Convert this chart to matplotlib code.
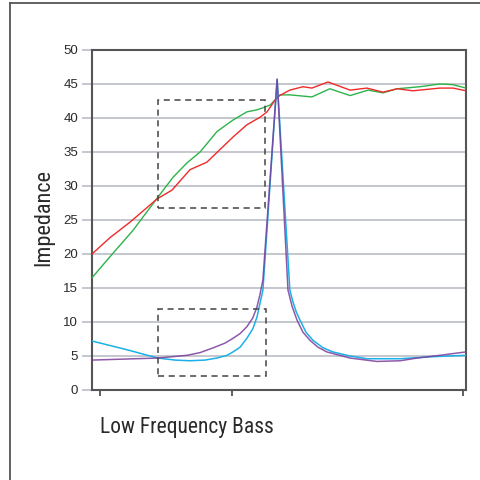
import matplotlib
matplotlib.use("Agg")
import matplotlib.pyplot as plt
from matplotlib.lines import Line2D
from matplotlib.patches import Rectangle

# ---- data (x in arbitrary 0-100 units along the frequency axis) ----
green_x = [0, 4.8, 11, 17.4, 21.7, 25.4, 28.9, 33.4, 37.7, 41.4, 44.1, 45.7, 47.6, 50.3,
           52.9, 58.8, 63.6, 69, 73.8, 77.8, 81.6, 87.7, 93, 96.5, 100]
green_y = [16.5, 19.6, 23.5, 28.2, 31.3, 33.4, 35, 38, 39.7, 40.9, 41.2, 41.5, 41.9, 43.4,
           43.4, 43.1, 44.3, 43.3, 44.1, 43.7, 44.3, 44.6, 45, 44.9, 44.4]

red_x = [0, 4.8, 10.2, 17.4, 21.4, 26.2, 30.7, 37.7, 41.4, 44.9, 46.8, 49.5,
         52.9, 56.4, 58.8, 63.1, 69, 73.5, 77.8, 81.6, 85.8, 93, 96.5, 100]
red_y = [20, 22.4, 24.7, 28.1, 29.4, 32.4, 33.5, 37.2, 39, 40.1, 40.9, 43.1,
         44.1, 44.6, 44.4, 45.3, 44.1, 44.4, 43.8, 44.3, 44, 44.4, 44.4, 44]

blue_x = [0, 8.8, 17.6, 22.2, 26.2, 30.2, 33.4, 36.1, 37.7, 39.6, 41.4, 43, 44.1, 45.7,
          49.5, 52.9, 53.7, 54.6, 55.6, 57.2, 59.1, 61.8, 64.4, 69, 73.5, 82.4, 91.2, 100]
blue_y = [7.2, 6.0, 4.7, 4.4, 4.3, 4.4, 4.7, 5.1, 5.6, 6.3, 7.6, 9, 10.7, 14.7,
          45.7, 14.7, 13.0, 11.5, 10.3, 8.5, 7.3, 6.2, 5.6, 5.0, 4.6, 4.6, 4.9, 5.1]

purple_x = [0, 8.8, 17.6, 25.4, 28.9, 32.4, 35.6, 37.7, 39.6, 41.4, 43, 44.1, 44.9, 45.7,
            49.5, 52.4, 53.5, 54.8, 56.4, 58.3, 60.4, 62.8, 69, 76.2, 82.4, 86.9, 93, 100]
purple_y = [4.4, 4.55, 4.7, 5.1, 5.5, 6.2, 6.9, 7.6, 8.3, 9.3, 10.6, 12.2, 14, 16.2,
            45.7, 14.7, 12.3, 10.3, 8.5, 7.3, 6.3, 5.6, 4.7, 4.2, 4.3, 4.7, 5.1, 5.6]

# dashed boxes: (x0, x1, y0, y1)
box_upper = (17.6, 46.3, 26.8, 42.6)
box_lower = (17.6, 46.5, 2.0, 11.9)

y_ticks = [0, 5, 10, 15, 20, 25, 30, 35, 40, 45, 50]
x_ticks = [2.1, 37.4, 99.2]
x_label = "Low Frequency Bass"
y_label = "Impedance"

narrow = ["Roboto Condensed", "Archivo Narrow", "PT Sans Narrow", "Asap Condensed", "DejaVu Sans"]

fig = plt.figure(figsize=(4.8, 4.8), dpi=100)
fig.patch.set_facecolor("white")

# outer frame lines (left and top)
fig.add_artist(Line2D([10/480, 10/480], [0, 1 - 3/480], transform=fig.transFigure,
                      color="#555555", lw=1.3))
fig.add_artist(Line2D([10/480, 1], [1 - 3/480, 1 - 3/480], transform=fig.transFigure,
                      color="#555555", lw=1.3))

ax = fig.add_axes([92/480, 90/480, 374/480, 340/480])
ax.set_xlim(0, 100)
ax.set_ylim(0, 50)

for y in y_ticks[1:-1]:
    ax.axhline(y, color="#b4b8c0", lw=1.1, zorder=1)

ax.plot(green_x, green_y, color="#2db34a", lw=1.0, zorder=3)
ax.plot(red_x, red_y, color="#ee2a2a", lw=1.0, zorder=3)
ax.plot(blue_x, blue_y, color="#1ab0e8", lw=1.1, zorder=3)
ax.plot(purple_x, purple_y, color="#7a3d9a", lw=1.1, zorder=4, alpha=0.85)

for (x0, x1, y0, y1) in (box_upper, box_lower):
    ax.add_patch(Rectangle((x0, y0), x1 - x0, y1 - y0, fill=False,
                           edgecolor="#444444", lw=1.1, ls=(0, (4, 3)), zorder=5))

for s in ax.spines.values():
    s.set_color("#555555")
    s.set_linewidth(1.5)

ax.set_yticks(y_ticks)
ax.set_yticklabels([str(v) for v in y_ticks], fontsize=9.5, color="#2a2a2a",
                   family=["Liberation Sans", "DejaVu Sans"])
ax.tick_params(axis="y", length=7, width=1.1, color="#b4b8c0", pad=3)
ax.set_xticks(x_ticks)
ax.set_xticklabels([])
ax.tick_params(axis="x", length=4, width=1.1, color="#333333")

fig.text(100/480, 1 - 427/480, x_label, fontsize=15.5, color="#2a2a2a", va="center", ha="left",
         family=narrow)
fig.text(44/480, 1 - 218/480, y_label, fontsize=16, color="#2a2a2a", va="center", ha="center",
         rotation=90, family=narrow)

fig.savefig("out.png", dpi=100, facecolor="white")
